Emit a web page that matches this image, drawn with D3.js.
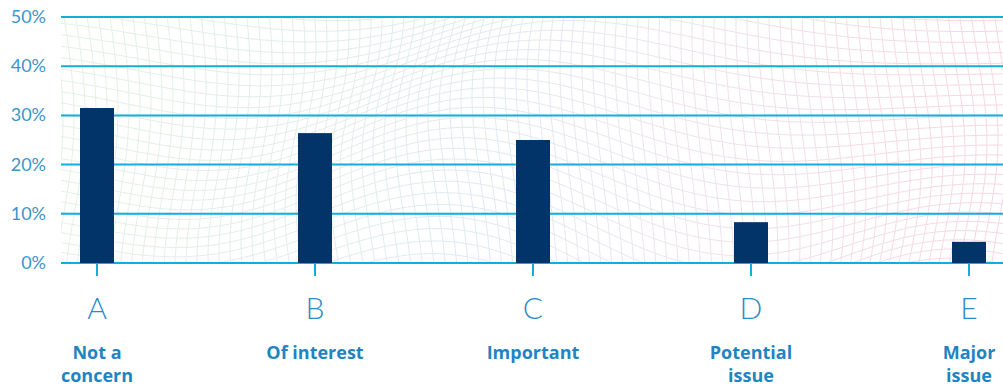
<!DOCTYPE html>
<html>
<head>
<meta charset="utf-8">
<script src="https://cdn.jsdelivr.net/npm/d3@7"></script>
<style>
  body { margin: 0; background: #fff; }
  text { font-family: "Lato", "Open Sans", sans-serif; }
  text.name { font-family: "Open Sans", sans-serif; }
</style>
</head>
<body>
<div id="chart"></div>
<script>
// data
var letters = ["A", "B", "C", "D", "E"]
var labels = [["Not a", "concern"], ["Of interest"], ["Important"], ["Potential", "issue"], ["Major", "issue"]]
var values = [31.5, 26.4, 25.0, 8.3, 4.3]
var yTicks = [0, 10, 20, 30, 40, 50]

var width = 1003, height = 387
var margin = { top: 17, left: 61, bottom: 124 }
var plotBottom = height - margin.bottom

var svg = d3.select("#chart").append("svg")
  .attr("width", width)
  .attr("height", height)

var x = d3.scalePoint()
  .domain(letters)
  .range([97, 969])

var y = d3.scaleLinear()
  .domain([0, 50])
  .range([plotBottom, margin.top])

// decorative warped mesh behind the bars
var defs = svg.append("defs")
var grad = defs.append("linearGradient")
  .attr("id", "meshColor")
  .attr("gradientUnits", "userSpaceOnUse")
  .attr("x1", margin.left).attr("x2", width)
  .attr("y1", 0).attr("y2", 0)
grad.append("stop").attr("offset", "0%").attr("stop-color", "#dcecd9")
grad.append("stop").attr("offset", "45%").attr("stop-color", "#d6e2ea")
grad.append("stop").attr("offset", "62%").attr("stop-color", "#e4dce8")
grad.append("stop").attr("offset", "100%").attr("stop-color", "#f5c9da")

defs.append("clipPath").attr("id", "plotClip")
  .append("rect")
  .attr("x", margin.left).attr("y", margin.top)
  .attr("width", width - margin.left).attr("height", plotBottom - margin.top)

var mesh = svg.append("g")
  .attr("clip-path", "url(#plotClip)")
  .attr("fill", "none")
  .attr("stroke", "url(#meshColor)")
  .attr("stroke-width", 1)
  .attr("opacity", 0.75)

function warp(px, py) {
  var t = (px - margin.left) / (width - margin.left)
  var s = (py - margin.top) / (plotBottom - margin.top)
  var dy = 38 * Math.sin(t * 7.5 + s * 2.2) * Math.exp(-Math.pow((t - 0.45) * 2.2, 2))
    + 18 * Math.sin(t * 13 - 1) * s
  var dx = 10 * Math.sin(s * 4 + t * 6)
  return [px + dx, py + dy]
}

var cell = 11
var line = d3.line().curve(d3.curveBasis)
for (var gx = margin.left - 30; gx <= width + 30; gx += cell) {
  var pts = []
  for (var gy = margin.top - 60; gy <= plotBottom + 60; gy += 6) pts.push(warp(gx, gy))
  mesh.append("path").attr("d", line(pts))
}
for (var gy2 = margin.top - 60; gy2 <= plotBottom + 60; gy2 += cell) {
  var pts2 = []
  for (var gx2 = margin.left - 30; gx2 <= width + 30; gx2 += 6) pts2.push(warp(gx2, gy2))
  mesh.append("path").attr("d", line(pts2))
}

// gridlines
svg.append("g")
  .selectAll("line")
  .data(yTicks)
  .enter()
  .append("line")
  .attr("x1", margin.left)
  .attr("x2", width)
  .attr("y1", function (d) { return y(d) })
  .attr("y2", function (d) { return y(d) })
  .attr("stroke", "#12aedb")
  .attr("stroke-width", 2)

// y labels
svg.append("g")
  .selectAll("text")
  .data(yTicks)
  .enter()
  .append("text")
  .attr("x", 46)
  .attr("y", function (d) { return y(d) + 6 })
  .attr("text-anchor", "end")
  .attr("font-size", 18)
  .attr("fill", "#3a95cb")
  .text(function (d) { return d + "%" })

// bars
var barW = 34
svg.append("g")
  .selectAll("rect")
  .data(values)
  .enter()
  .append("rect")
  .attr("x", function (d, i) { return x(letters[i]) - barW / 2 })
  .attr("y", function (d) { return y(d) })
  .attr("width", barW)
  .attr("height", function (d) { return y(0) - y(d) })
  .attr("fill", "#02346a")

// tick marks
svg.append("g")
  .selectAll("line")
  .data(letters)
  .enter()
  .append("line")
  .attr("x1", function (d) { return x(d) })
  .attr("x2", function (d) { return x(d) })
  .attr("y1", plotBottom)
  .attr("y2", plotBottom + 13)
  .attr("stroke", "#12aedb")
  .attr("stroke-width", 2)

// category letters
svg.append("g")
  .selectAll("text")
  .data(letters)
  .enter()
  .append("text")
  .attr("x", function (d) { return x(d) })
  .attr("y", 319)
  .attr("text-anchor", "middle")
  .attr("font-size", 30)
  .attr("font-weight", 300)
  .attr("fill", "#2b8ccb")
  .text(function (d) { return d })

// category names
var names = svg.append("g")
  .selectAll("text")
  .data(labels)
  .enter()
  .append("text")
  .attr("class", "name")
  .attr("x", function (d, i) { return x(letters[i]) })
  .attr("y", 359)
  .attr("text-anchor", "middle")
  .attr("font-size", 18)
  .attr("font-weight", 700)
  .attr("fill", "#1f84c2")
names.selectAll("tspan")
  .data(function (d) { return d })
  .enter()
  .append("tspan")
  .attr("x", function () { return d3.select(this.parentNode).attr("x") })
  .attr("dy", function (d, i) { return i ? 23 : 0 })
  .text(function (d) { return d })
</script>
</body>
</html>
